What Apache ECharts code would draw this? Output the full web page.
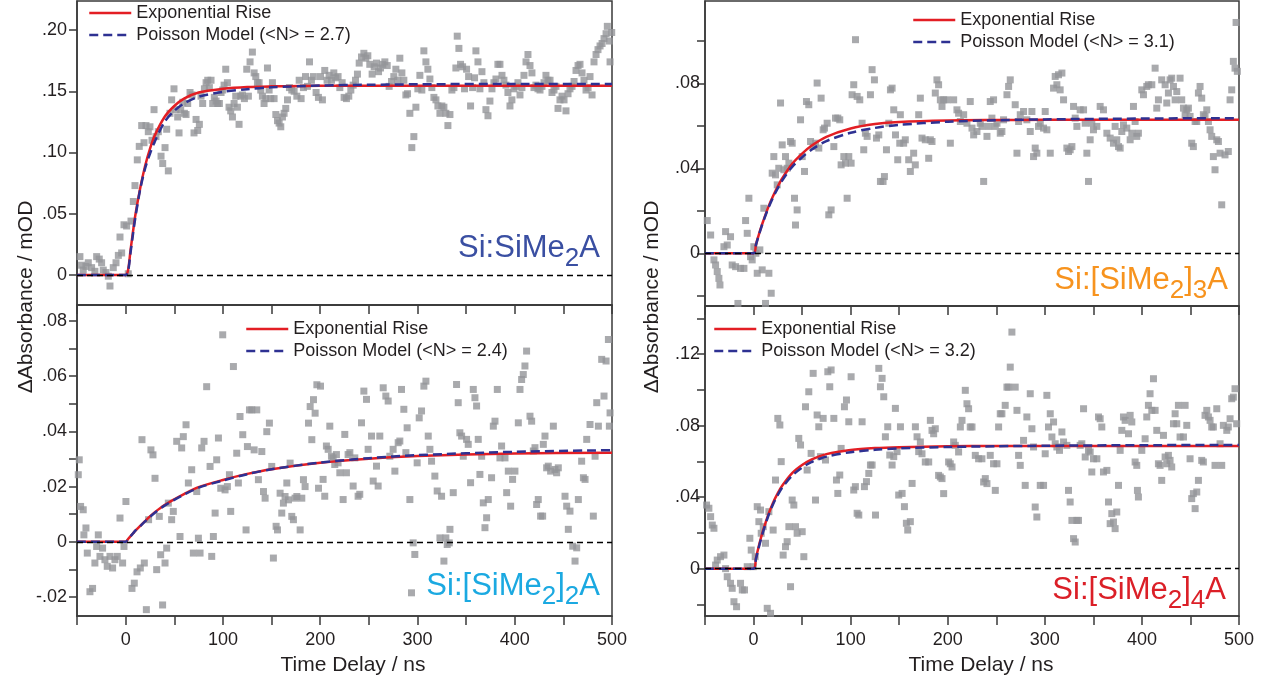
<!DOCTYPE html>
<html>
<head>
<meta charset="utf-8">
<script src="https://cdn.jsdelivr.net/npm/echarts@6/dist/echarts.min.js"></script>
<style>
  html, body { margin: 0; padding: 0; background: #ffffff; }
  #chart { width: 1268px; height: 682px; }
</style>
</head>
<body>
<div id="chart"></div>
<script>
// Transient absorbance rise for four Si:[SiMe2]nA samples, with exponential-rise and Poisson-model fits.

const FONT = '"Liberation Sans", Arial, Helvetica, sans-serif';
const INK = '#231f20';
const AXIS = '#3a3a3a';

// Time axis ticks (ns)
const delayTicks = [-50, 0, 50, 100, 150, 200, 250, 300, 350, 400, 450, 500];
const delayLabels = [0, 100, 200, 300, 400, 500];

// Sample times of the fitted curves (ns)
const fitTimes = [-50, 0, 2.5, 5, 7.5, 10, 15, 20, 25, 30, 40, 50, 60, 75, 100, 125, 150, 200, 250, 300, 400, 500];

// ---------- Si:SiMe2A ----------
const siMe2A_points = [
[-47,.015],[-45.3,.008],[-43.6,.004],[-40.8,.007],[-38.4,.010],[-35,.006],[-31.6,.003],[-29.8,.015],[-27.1,.013],[-24.7,.010],
[-23,.004],[-20.2,.002],[-17.8,-.001],[-16.1,-.009],[-12.7,.006],[-9.9,.010],[-7.5,.016],[-5.8,.031],[-4.1,.018],[-1.7,.041],
[1,.040],[2.7,.001],[5.5,.044],[7.9,.060],[9.6,.073],[12,.094],[14,.105],[16.5,.122],[18.9,.108],[20.9,.122],
[23.3,.117],[25,.121],[27.1,.110],[29.2,.135],[31.2,.113],[33.6,.117],[36.4,.097],[38.1,.091],[40.5,.104],[42.2,.119],
[43.9,.085],[45.6,.132],[47.3,.143],[49.7,.152],[51.8,.135],[53.5,.129],[54.9,.116],[56.6,.135],[58.7,.141],[60.4,.132],
[62.1,.131],[63.8,.140],[66.2,.149],[68.3,.147],[70.3,.116],[72.4,.127],[74.1,.118],[75.8,.123],[77.5,.146],[79.2,.140],
[81,.152],[82.7,.157],[84.4,.159],[86.1,.153],[87.8,.159],[89.5,.140],[91.2,.145],[93,.142],[94.7,.140],[96.4,.140],
[98.1,.149],[99.8,.151],[101.2,.155],[102.9,.168],[104.6,.157],[106.3,.137],[108,.134],[109.8,.129],[111.5,.140],[113.2,.146],
[114.9,.137],[116.6,.123],[118.3,.146],[120,.147],[122.1,.144],[124.5,.168],[126.2,.146],[127.9,.174],[130.3,.182],[132.1,.165],
[133.8,.162],[135.5,.157],[137.2,.157],[138.9,.151],[140.6,.146],[142.3,.140],[144.1,.144],[145.8,.169],[147.5,.151],[149.2,.144],
[150.9,.157],[152.6,.144],[154.4,.131],[156.1,.126],[157.8,.124],[159.5,.121],[161.2,.129],[162.9,.132],[164.6,.136],[166.4,.143],
[168.4,.153],[170.8,.151],[173.2,.150],[176,.146],[178.4,.159],[180.4,.144],[182.8,.153],[184.9,.162],[186.9,.154],[189,.174],
[191,.159],[193,.162],[195.8,.149],[198.2,.145],[200.3,.162],[202.3,.143],[204.7,.167],[207.1,.159],[209.2,.163],[211.6,.159],
[214,.165],[216,.161],[218.4,.162],[220.2,.153],[222.6,.157],[224.6,.145],[227,.144],[229.4,.146],[231.5,.151],[233.9,.155],
[236.3,.159],[238.3,.164],[240.1,.173],[242.5,.178],[244.9,.181],[246.9,.177],[249,.179],[251,.172],[253.4,.164],[255.5,.170],
[257.9,.173],[260,.166],[262,.169],[264.4,.172],[266.5,.174],[268.9,.171],[270.9,.154],[273.3,.158],[275.7,.162],[277.8,.168],
[279.8,.159],[281.9,.177],[284,.165],[286,.159],[288.1,.147],[289.8,.148],[292.2,.132],[294.2,.104],[296.3,.113],[298.4,.137],
[300.4,.152],[302.5,.163],[304.5,.151],[306.6,.183],[308.7,.174],[310.7,.168],[312.8,.160],[314.8,.153],[316.9,.145],[319,.143],
[321,.138],[323.1,.132],[325.1,.138],[327.2,.137],[329.2,.132],[331.3,.122],[333.4,.131],[335.4,.151],[337.5,.153],[339.5,.169],
[340.9,.195],[342.6,.185],[344.3,.172],[346.4,.170],[348.4,.152],[350.5,.168],[352.6,.162],[354.6,.138],[356.7,.153],[358.7,.161],
[360.1,.183],[362.2,.174],[364.2,.152],[366.3,.166],[368.3,.157],[370.4,.135],[372.5,.130],[374.5,.142],[376.6,.152],[378.6,.157],
[380.7,.160],[382.7,.172],[384.8,.172],[386.9,.163],[388.9,.159],[391,.155],[393,.149],[395.1,.138],[397.1,.143],[399.2,.152],
[401.3,.154],[403.3,.157],[405.4,.147],[407.4,.153],[409.5,.163],[411.6,.174],[413.6,.180],[415.7,.171],[417.7,.165],[419.8,.153],
[421.8,.155],[423.9,.152],[426,.151],[428,.154],[430.1,.157],[432.1,.163],[434.2,.159],[436.3,.159],[438.3,.149],[440.4,.151],
[442.4,.154],[444.5,.136],[446.5,.143],[448.6,.146],[450.7,.143],[452.7,.134],[454.8,.148],[456.8,.152],[458.9,.154],[461,.158],
[463,.167],[465.1,.171],[467.1,.172],[469.2,.165],[471.2,.159],[473.3,.151],[475.4,.153],[477.4,.162],[479.5,.147],[481.5,.174],
[483.6,.180],[485.6,.184],[487.7,.187],[489.8,.189],[491.8,.193],[493.9,.197],[495.2,.203],[497.3,.191],[498,.174],[499.7,.198]
];
const siMe2A_exp     = [0, 0, .004, .020, .035, .049, .071, .089, .103, .114, .129, .138, .144, .149, .152, .1535, .154, .1545, .1545, .1545, .1545, .1545];
const siMe2A_poisson = [0, 0, .003, .018, .033, .047, .070, .087, .099, .109, .125, .134, .140, .1455, .1495, .1517, .1532, .1547, .1553, .1557, .156, .156];

// ---------- Si:[SiMe2]2A ----------
const siMe2_2A_points = [
[-48.7,.0243],[-47.7,.0297],[-46.3,.0128],[-43.6,.0116],[-42.9,.0025],[-40.8,.0050],[-39.4,-.0041],[-36.7,-.0181],[-34,-.0169],[-31.6,-.0077],
[-29.8,-.0017],[-28.1,.0025],[-26.4,-.0053],[-23.7,-.0023],[-21.3,-.0065],[-18.9,-.0089],[-16.1,-.0053],[-13.4,-.0095],[-11,-.0065],[-8.6,-.0053],
[-5.8,.0086],[-3.1,-.0077],[-1.7,-.0017],[0.3,.0146],[6.5,-.0169],[8.9,-.0150],[11.7,-.0109],[15.1,-.0095],[16.8,.0370],[19.2,-.0077],
[21.3,-.0246],[23.6,.0080],[26,.0333],[28.1,.0315],[30.2,.0230],[31.9,-.0101],[34.6,.0092],[36,-.0047],[38,-.0229],[40.5,-.0077],
[42.2,-.0023],[43.9,.0140],[47.3,.0080],[49,.0110],[52.5,.0364],[55.9,.0019],[57.6,.0340],[59.3,.0381],[62.1,.0424],[64.5,.0213],
[67.9,.0261],[69.6,-.0041],[73.1,.0182],[74.8,.0013],[76.5,-.0041],[78.2,.0340],[80.6,.0364],[83.3,.0562],[86.8,.0273],[88.5,-.0053],
[90.2,.0019],[92,.0104],[93.6,.0297],[95.4,.0376],[97.8,.0194],[99.8,.0750],[102.2,.0188],[104.6,.0200],[106.7,.0243],[108,.0110],
[110.8,.0635],[114.2,.0321],[115.9,.0213],[117.6,.0454],[120.4,.0388],[123.8,.0043],[125.2,.0345],[127.3,.0478],[129.7,.0478],[132.1,.0333],
[134.8,.0478],[136.5,.0225],[140,.0327],[141.7,.0182],[143.4,.0158],[145.1,.0399],[147.8,.0430],[150.2,.0273],[151.9,-.0059],[154.7,.0056],
[156.1,.0043],[158.8,.0176],[160.5,.0104],[162.2,.0140],[163.9,.0164],[165.7,.0213],[167.4,.0152],[169.1,.0285],[170.8,.0092],[172.5,.0080],
[174.2,.0158],[176,.0164],[179.4,.0043],[181.1,.0158],[182.8,.0225],[184.5,.0200],[188,.0430],[189.7,.0490],[191.4,.0370],[193.1,.0515],
[194.8,.0466],[196.6,.0569],[198.3,.0194],[200.3,.0564],[203,.0226],[204.7,.0165],[206.4,.0347],[208.2,.0335],[209.9,.0419],[211.6,.0310],
[213.3,.0304],[215,.0280],[216.7,.0316],[218.4,.0286],[220.2,.0250],[223.6,.0153],[225.3,.0389],[227,.0250],[228.7,.0316],[230.5,.0323],
[233.9,.0202],[235.6,.0304],[239,.0165],[240.7,.0172],[242.5,.0431],[244.9,.0546],[247.6,.0516],[249.3,.0335],[252.8,.0383],[254.5,.0220],
[257.9,.0274],[259.6,.0202],[261.3,.0383],[264.8,.0558],[267.5,.0528],[269.9,.0510],[271.6,.0310],[275,.0335],[276.8,.0256],[280.2,.0359],
[281.9,.0365],[283.6,.0552],[286,.0480],[288.1,.0323],[289.4,.0413],[292.2,.0153],[293.9,-.0185],[295.6,-.0004],[297.3,-.0046],[299.7,.0286],
[301.8,.0449],[304.2,.0474],[306.6,.0564],[308.7,.0582],[311.1,.0383],[312.8,.0335],[314.5,.0292],[317.9,.0238],[320.3,.0184],[323.1,.0014],
[324.8,.0165],[327.2,-.0070],[329.2,.0014],[330.6,-.0010],[332.7,-.0004],[333.4,.0045],[336.8,.0178],[340.2,.0570],[341.9,.0504],[343.6,.0395],
[345.4,.0383],[347.1,.0310],[350.5,.0371],[352.2,.0353],[354.6,.0214],[357.4,.0552],[359.1,.0522],[360.8,.0492],[362.5,.0371],[364.2,.0244],
[366,.0310],[367.7,.0141],[369.4,.0051],[371.1,.0087],[372.8,.0153],[376.2,.0232],[378,.0419],[379.7,.0437],[382.1,.0552],[384.8,.0304],
[386.5,.0347],[390,.0304],[391.7,.0178],[393.4,.0256],[395.8,.0129],[397.8,.0226],[400.2,.0256],[403.7,.0431],[405.4,.0552],[407.1,.0588],
[408.8,.0606],[410.5,.0637],[412.2,.0691],[415.7,.0455],[417.4,.0437],[419.1,.0329],[420.8,.0341],[422.5,.0135],[424.2,.0153],[426.6,.0093],
[428.7,.0093],[429.4,.0353],[431.1,.0383],[432.8,.0268],[434.5,.0274],[436.9,.0256],[439.7,.0419],[441.4,.0262],[443.1,.0250],[444.8,.0268],
[451.7,.0165],[453.4,.0129],[455.1,.0045],[456.8,.0111],[459.6,-.0016],[462,-.0070],[463.7,-.0022],[465.4,.0153],[468.8,.0292],[470.6,.0232],
[472.3,.0226],[474,.0371],[477.4,.0425],[480.8,.0093],[482.6,.0310],[484.3,.0504],[486,.0419],[489.4,.0661],[491.8,.0528],[493.9,.0655],
[496.3,.0733],[497.3,.0419],[498,.0467]
];
const siMe2_2A_exp     = [0, 0, .001, .002, .003, .004, .0058, .0075, .0092, .0107, .0133, .0154, .0173, .0198, .0224, .0246, .0263, .0286, .0301, .0311, .0320, .0323];
const siMe2_2A_poisson = [0, 0, .001, .002, .003, .004, .0057, .0074, .0090, .0105, .0131, .0152, .0171, .0196, .0222, .0245, .0263, .0287, .0303, .0314, .0326, .0332];

// ---------- Si:[SiMe2]3A ----------
const siMe2_3A_points = [
[-47.7,.0154],[-44.2,.0086],[-40.8,-.0031],[-39.1,-.0055],[-37.4,-.0086],[-35.7,-.0118],[-34.6,-.0149],[-30.5,.0031],[-28.8,.0102],[-27.1,.0039],
[-23.7,.0078],[-22,-.0055],[-18.5,-.0063],[-16.1,-.0236],[-13.4,-.0071],[-9.9,-.0071],[-8.2,.0154],[-6.5,.0094],[-4.8,.0259],[-3.1,-.0016],
[-1.4,-.0031],[0.3,.0031],[2.4,0],[3.8,-.0094],[6.5,.0016],[8.9,-.0078],[10.6,.0212],[12.3,-.0236],[15.8,-.0094],[18.2,-.0188],
[19.2,.0377],[20.9,.0455],[22.6,.0369],[24.4,.0322],[26,.0400],[27.8,.0707],[29.5,.0510],[31.2,.0393],[32.9,.0455],[34.6,.0400],
[36.4,.0424],[38.1,.0526],[39.8,.0518],[42.2,.0259],[43.2,.0133],[44.9,.0204],[48.4,.0628],[50.1,.0455],[52.5,.0385],[54.5,.0714],
[56.9,.0699],[58.7,.0526],[61.4,.0502],[63.8,.0518],[65.5,.0801],[67.2,.0495],[69.6,.0730],[71.7,.0581],[73.1,.0589],[75.8,.0612],
[77.5,.0181],[79.9,.0204],[82.7,.0502],[84.4,.0636],[86.8,.0636],[88.8,.0628],[90.2,.0416],[93,.0455],[94.7,.0424],[96.4,.0259],
[98.1,.0455],[100.5,.0424],[101.5,.0746],[103.2,.0793],[105,.1005],[106.7,.0738],[109.4,.0722],[111.8,.0612],[113.5,.0487],[115.2,.0565],
[117,.0550],[120.4,.0746],[122.1,.0864],[124.5,.0816],[126.6,.0542],[129,.0557],[130.7,.0338],[133.4,.0338],[134.8,.0361],[136.9,.0487],
[139.3,.0612],[141,.0769],[142.7,.0777],[144.4,.0675],[146.2,.0557],[148.5,.0440],[150.6,.0518],[151.2,.0652],[154.6,.0518],[156.3,.0534],
[159.8,.0440],[161.5,.0385],[164.9,.0471],[166.6,.0416],[170.1,.0652],[171.8,.0730],[173.5,.0542],[176.9,.0534],[180.4,.0447],[182.1,.0534],
[183.8,.0526],[187.2,.0754],[188.9,.0816],[190.6,.0793],[192.4,.0722],[194.1,.0691],[195.8,.0722],[199.2,.0722],[202.7,.0518],[206.1,.0722],
[209.5,.0675],[211.2,.0659],[213,.0620],[216.4,.0652],[219.8,.0612],[223.2,.0714],[225,.0589],[226.7,.0557],[230.1,.0573],[233.5,.0612],
[235.2,.0597],[237,.0338],[240.4,.0550],[242.1,.0597],[243.8,.0714],[245.5,.0636],[247.2,.0722],[249,.0597],[250.7,.0612],[254.1,.0565],
[255.8,.0573],[257.5,.0628],[261,.0746],[262.7,.0785],[264.4,.0816],[269.5,.0699],[271.3,.0471],[273,.0620],[274.7,.0652],[278.1,.0667],
[281.5,.0628],[285,.0573],[286.7,.0667],[288.4,.0455],[290.1,.0495],[291.8,.0471],[293.5,.0597],[295.3,.0612],[298.7,.0589],[300.4,.0667],
[302.1,.0581],[305.6,.0471],[309,.0777],[310.7,.0832],[312.4,.0793],[314.1,.0840],[315.8,.0769],[317.6,.0848],[319.3,.0722],[322.7,.0495],
[324.4,.0479],[326.1,.0487],[327.9,.0502],[329.6,.0691],[331.3,.0636],[333,.0597],[336.4,.0675],[339.9,.0675],[341.6,.0612],[343.3,.0471],
[345,.0338],[346.7,.0534],[348.4,.0612],[350.1,.0581],[353.6,.0597],[357,.0691],[360.4,.0675],[363.9,.0565],[367.3,.0542],[370.7,.0518],
[372.4,.0597],[374.1,.0534],[375.9,.0502],[377.6,.0495],[379.3,.0573],[381,.0604],[384.4,.0589],[387.9,.0534],[389.6,.0565],[391.3,.0691],
[393,.0620],[394.7,.0550],[396.4,.0565],[399.9,.0769],[401.6,.0746],[405,.0785],[406.7,.0793],[410.2,.0793],[413.6,.0871],[415.3,.0683],
[417,.0722],[420.4,.0816],[423.9,.0793],[425.6,.0707],[427.3,.0754],[429,.0816],[430.7,.0824],[432.5,.0785],[434.2,.0722],[435.9,.0761],
[439.3,.0824],[441,.0722],[442.8,.0683],[444.5,.0652],[446.2,.0675],[447.9,.0683],[449.6,.0644],[451.3,.0518],[453,.0502],[454.8,.0620],
[456.5,.0620],[458.2,.0754],[459.9,.0785],[461.6,.0730],[463.3,.0652],[465,.0644],[466.8,.0675],[468.5,.0620],[470.2,.0581],[471.9,.0550],
[473.6,.0455],[475.3,.0393],[477.1,.0534],[478.8,.0526],[480.5,.0471],[482.2,.0228],[485.6,.0463],[489,.0479],[490.8,.0722],[492.5,.0769],
[494.2,.0903],[495.9,.0871],[497,.1086],[498.3,.0856]
];
const siMe2_3A_exp     = [0, 0, .0042, .0081, .0118, .0152, .0215, .0268, .0315, .0356, .0422, .0469, .0507, .0548, .0587, .0608, .0618, .0625, .0627, .0628, .0628, .0628];
const siMe2_3A_poisson = [0, 0, .0040, .0079, .0115, .0149, .0210, .0262, .0307, .0346, .0408, .0452, .0488, .0528, .0567, .0590, .0604, .0619, .0626, .0630, .0634, .0636];

// ---------- Si:[SiMe2]4A ----------
const siMe2_4A_points = [
[-48.4,.0356],[-46,.0338],[-44.2,.0291],[-42.5,.0244],[-40.8,.0226],[-39.1,.0020],[-37.4,.0048],[-34,.0067],[-30.5,.0076],[-28.8,0],
[-27.1,-.0045],[-23.7,-.0082],[-22,-.0110],[-20.2,-.0185],[-17.5,-.0213],[-13.4,-.0082],[-11.6,-.0119],[-9.3,-.0119],[-6.5,.0011],[-3.8,.0170],
[-2.4,.0104],[-0.3,.0011],[1.7,.0067],[3.8,.0347],[5.5,.0263],[7.2,.0328],[7.9,.0198],[10,.0235],[12.3,.0142],[14.1,-.0222],
[15.8,.0319],[17.5,-.0250],[20.2,.0216],[22.6,.0496],[25,.0841],[27.1,.0804],[28.5,.0599],[30.5,.0076],[32.9,.0123],[34.6,.0151],
[36.4,.0235],[38.1,-.0101],[39.8,.0384],[41.5,.0356],[43.2,.0235],[44.9,.0198],[46.6,.0729],[48.4,.0692],[50.1,.0207],[51.8,.0067],
[53.5,.0906],[55.2,.0552],[56.9,.0990],[59.3,.0645],[61.4,.1093],[63.8,.0384],[65.5,.0860],[67.2,.0794],[68.9,.0627],[71.7,.0841],
[74.1,.0608],[76.5,.1102],[78.5,.1018],[79.9,.1112],[82.7,.0841],[85.4,.0496],[86.8,.0421],[88.8,.0524],[90.2,.0673],[93.6,.0906],
[95.7,.0944],[98.1,.0822],[100.5,.1074],[103.2,.0440],[104.9,.0459],[106.7,.0310],[108.4,.0300],[111.8,.0822],[114.2,.0459],[116.3,.0487],
[118.7,.0533],[120.4,.0580],[122.1,.0580],[125.6,.0300],[129,.1121],[130.7,.1018],[132.4,.1065],[134.1,.0962],[135.8,.0738],[138.2,.0794],
[140.3,.0636],[142.7,.0580],[144.4,.0627],[146.1,.0897],[147.8,.0655],[149.5,.0412],[151.3,.0794],[153,.0421],[155.4,.0347],[157.4,.0254],
[158.8,.0216],[161.5,.0263],[163.3,.0477],[166.7,.0794],[168.4,.0738],[170.1,.0655],[171.8,.0709],[173.5,.0643],[176.9,.0597],[180.4,.0597],
[182.1,.0830],[183.8,.0774],[185.5,.0755],[187.2,.0783],[190.6,.0522],[192.4,.0513],[194.1,.0504],[195.8,.0420],[200.9,.0597],[202.6,.0587],
[204.4,.0569],[206.1,.0709],[207.8,.0690],[211.2,.0653],[213,.0793],[214.7,.0830],[218.1,.0998],[219.8,.0923],[221.5,.0895],[223.2,.0793],
[225,.0793],[228.4,.0634],[231.8,.0615],[235.2,.0615],[237,.0485],[238.7,.0504],[240.4,.0476],[243.8,.0634],[247.2,.0587],[249,.0438],
[250.7,.0587],[252.4,.0793],[254.1,.0867],[255.8,.0867],[259.2,.0914],[261,.1016],[262.7,.1016],[264.4,.1128],[266.1,.1324],[269.5,.1016],
[271.3,.0886],[273,.0634],[274.7,.0578],[278.1,.0718],[279.8,.0466],[281.5,.0849],[285,.0979],[286.7,.0783],[288.4,.0681],[290.1,.0345],
[291.8,.0289],[295.3,.0466],[298.7,.0466],[300.4,.0643],[302.1,.0970],[303.8,.0793],[305.6,.0867],[307.3,.0737],[309,.0821],[310.7,.0699],
[312.4,.0681],[315.1,.0662],[317.6,.0765],[319.3,.0709],[322.7,.0690],[324.4,.0438],[326.1,.0373],[327.9,.0270],[329.6,.0168],[331.3,.0149],
[333,.0270],[334.7,.0270],[336.4,.0690],[338.1,.0699],[339.9,.0895],[341.6,.0625],[345,.0662],[346.7,.0653],[348.4,.0541],[350.1,.0615],
[353.6,.0615],[355.3,.0849],[357,.0839],[358.7,.0793],[360.4,.0541],[363.9,.0550],[365.6,.0373],[367.3,.0252],[369,.0308],[370.7,.0261],
[372.4,.0224],[374.1,.0317],[375.9,.0466],[377.6,.0662],[379.3,.0774],[381,.0849],[382.7,.0830],[386.2,.0755],[387.9,.0858],[389.6,.0821],
[393,.0597],[394.7,.0578],[395.4,.0438],[396.4,.0401],[399.9,.0662],[403.3,.0727],[405,.0849],[406.7,.0914],[408.4,.0979],[410.2,.0886],
[411.9,.1063],[413.6,.0886],[415.3,.0774],[417,.0587],[418.7,.0578],[420.4,.0494],[422.2,.0746],[423.9,.0625],[425.6,.0587],[427.3,.0634],
[429,.0606],[430.7,.0569],[432.5,.0811],[434.2,.0867],[435.9,.0811],[437.6,.0914],[439.3,.0737],[442.8,.0737],[444.5,.0914],[446.2,.0802],
[449.6,.0615],[451.3,.0392],[453,.0420],[454.8,.0336],[456.5,.0429],[458.2,.0494],[461.6,.0606],[463.3,.0597],[465,.0858],[466.8,.0886],
[468.5,.0849],[470.2,.0830],[471.9,.0793],[473.6,.0793],[475.3,.0578],[477.1,.0895],[480.5,.0699],[482.2,.0578],[483.9,.0802],[487.4,.0774],
[489,.0793],[490.8,.0839],[492.5,.0951],[494.2,.0960],[495.9,.1007],[497.6,.0811]
];
const siMe2_4A_exp     = [0, 0, .0060, .0117, .0170, .0217, .0300, .0368, .0423, .0468, .0536, .0580, .0612, .0641, .0664, .0675, .0680, .0685, .0686, .0686, .0686, .0686];
const siMe2_4A_poisson = [0, 0, .0055, .0110, .0162, .0209, .0292, .0359, .0413, .0457, .0522, .0566, .0597, .0627, .0652, .0665, .0673, .0681, .0685, .0688, .0691, .0692];

// Layout of the four panels: plot box, value range, ticks, legend and sample label placement
const panels = [
  { points: siMe2A_points, exp: siMe2A_exp, poisson: siMe2A_poisson, n: '2.7',
    box: [77, 1, 535, 304], yRange: [-0.0245, 0.2237], showX: false, labelMargin: 10,
    yTicks: [0, .05, .10, .15, .20], yLabels: [0, .05, .10, .15, .20],
    legend: [88, 2],
    tag: { parts: [['m', 'Si:SiMe'], ['s', '2'], ['m', 'A']], color: '#3a4fa2', x: 600, y: 233 } },
  { points: siMe2_2A_points, exp: siMe2_2A_exp, poisson: siMe2_2A_poisson, n: '2.4',
    box: [77, 305, 535, 311], yRange: [-0.0269, 0.0858], showX: true, labelMargin: 10,
    yTicks: [-.02, -.01, 0, .01, .02, .03, .04, .05, .06, .07, .08], yLabels: [-.02, 0, .02, .04, .06, .08],
    legend: [245, 318],
    tag: { parts: [['m', 'Si:[SiMe'], ['s', '2'], ['m', ']'], ['s', '2'], ['m', 'A']], color: '#1ba9e1', x: 600, y: 571 } },
  { points: siMe2_3A_points, exp: siMe2_3A_exp, poisson: siMe2_3A_poisson, n: '3.1',
    box: [705, 1, 534, 305], yRange: [-0.0248, 0.1187], showX: false, labelMargin: 5,
    yTicks: [-.02, 0, .02, .04, .06, .08, .10], yLabels: [0, .04, .08],
    legend: [912, 9],
    tag: { parts: [['m', 'Si:[SiMe'], ['s', '2'], ['m', ']'], ['s', '3'], ['m', 'A']], color: '#f7931e', x: 1228, y: 265 } },
  { points: siMe2_4A_points, exp: siMe2_4A_exp, poisson: siMe2_4A_poisson, n: '3.2',
    box: [705, 306, 534, 310], yRange: [-0.0265, 0.1470], showX: true, labelMargin: 5,
    yTicks: [-.02, 0, .02, .04, .06, .08, .10, .12, .14], yLabels: [0, .04, .08, .12],
    legend: [713, 318],
    tag: { parts: [['m', 'Si:[SiMe'], ['s', '2'], ['m', ']'], ['s', '4'], ['m', 'A']], color: '#db1f27', x: 1226, y: 575 } }
];

function tickText(v) {
  if (Math.abs(v) < 1e-9) return '0';
  const s = Math.abs(v).toFixed(2).replace(/^0/, '');
  return (v < 0 ? '-' : '') + s;
}

const axisLineStyle = { color: AXIS, width: 1.5 };
const labelStyle = { fontSize: 18, color: INK, fontFamily: FONT };

const option = {
  animation: false,
  backgroundColor: '#ffffff',
  grid: panels.map(p => ({
    left: p.box[0], top: p.box[1], width: p.box[2], height: p.box[3],
    show: true, borderColor: AXIS, borderWidth: 1.5, backgroundColor: 'transparent'
  })),
  xAxis: panels.map((p, i) => ({
    gridIndex: i, type: 'value', min: -50, max: 500,
    axisLine: { show: true, onZero: false, lineStyle: axisLineStyle },
    axisTick: { show: true, customValues: delayTicks, length: 9, lineStyle: axisLineStyle },
    axisLabel: Object.assign({ show: p.showX, customValues: delayLabels, margin: 15 }, labelStyle),
    splitLine: { show: false }
  })),
  yAxis: panels.map((p, i) => ({
    gridIndex: i, type: 'value', min: p.yRange[0], max: p.yRange[1],
    axisLine: { show: true, onZero: false, lineStyle: axisLineStyle },
    axisTick: { show: true, customValues: p.yTicks, length: 8, lineStyle: axisLineStyle },
    axisLabel: Object.assign({ customValues: p.yLabels, margin: p.labelMargin, formatter: tickText }, labelStyle),
    splitLine: { show: false }
  })),
  legend: panels.map(p => ({
    data: ['Exponential Rise', 'Poisson Model (<N> = ' + p.n + ')'],
    orient: 'vertical', left: p.legend[0], top: p.legend[1],
    padding: 0, itemGap: 0, itemWidth: 42, itemHeight: 14,
    selectedMode: false,
    itemStyle: { opacity: 0 },
    lineStyle: { width: 2.5 },
    textStyle: { fontSize: 18, color: INK, fontFamily: FONT, lineHeight: 22 }
  })),
  series: [],
  graphic: []
};

panels.forEach((p, i) => {
  option.series.push({
    type: 'scatter', xAxisIndex: i, yAxisIndex: i, data: p.points,
    symbol: 'rect', symbolSize: 7, itemStyle: { color: '#939598' }, z: 2,
    markLine: {
      silent: true, symbol: 'none', label: { show: false },
      lineStyle: { color: '#000000', type: [6, 4], width: 1.3 },
      data: [{ yAxis: 0 }]
    }
  });
  option.series.push({
    name: 'Exponential Rise', type: 'line', xAxisIndex: i, yAxisIndex: i,
    data: fitTimes.map((t, k) => [t, p.exp[k]]),
    symbol: 'none', smooth: 0.3, z: 3,
    lineStyle: { color: '#e31e24', width: 2.5 }, itemStyle: { color: '#e31e24' }
  });
  option.series.push({
    name: 'Poisson Model (<N> = ' + p.n + ')', type: 'line', xAxisIndex: i, yAxisIndex: i,
    data: fitTimes.map((t, k) => [t, p.poisson[k]]),
    symbol: 'none', smooth: 0.3, z: 4,
    lineStyle: { color: '#2e3192', width: 2.5, type: [9, 5] }, itemStyle: { color: '#2e3192' }
  });

  // Sample name with subscripts
  const t = p.tag;
  option.graphic.push({
    type: 'text', x: t.x, y: t.y, z: 10,
    style: {
      text: t.parts.map(([k, s]) => '{' + k + '|' + s + '}').join(''),
      align: 'right', verticalAlign: 'top',
      rich: {
        m: { fontSize: 31, lineHeight: 31, verticalAlign: 'top', fontFamily: FONT, fill: t.color, color: t.color },
        s: { fontSize: 26, lineHeight: 39, verticalAlign: 'bottom', fontFamily: FONT, fill: t.color, color: t.color }
      }
    }
  });
});

// Shared axis titles
const yTitle = 'ΔAbsorbance / mOD';
const xTitle = 'Time Delay / ns';
[[26, 297], [652, 297]].forEach(([x, y]) => {
  option.graphic.push({
    type: 'text', x: x, y: y, rotation: Math.PI / 2,
    style: { text: yTitle, align: 'center', verticalAlign: 'middle', fontSize: 21, fontFamily: FONT, fill: INK }
  });
});
[[353, 665], [981, 665]].forEach(([x, y]) => {
  option.graphic.push({
    type: 'text', x: x, y: y,
    style: { text: xTitle, align: 'center', verticalAlign: 'middle', fontSize: 21, fontFamily: FONT, fill: INK }
  });
});

const chart = echarts.init(document.getElementById('chart'), null, { renderer: 'canvas' });
chart.setOption(option);
</script>
</body>
</html>
